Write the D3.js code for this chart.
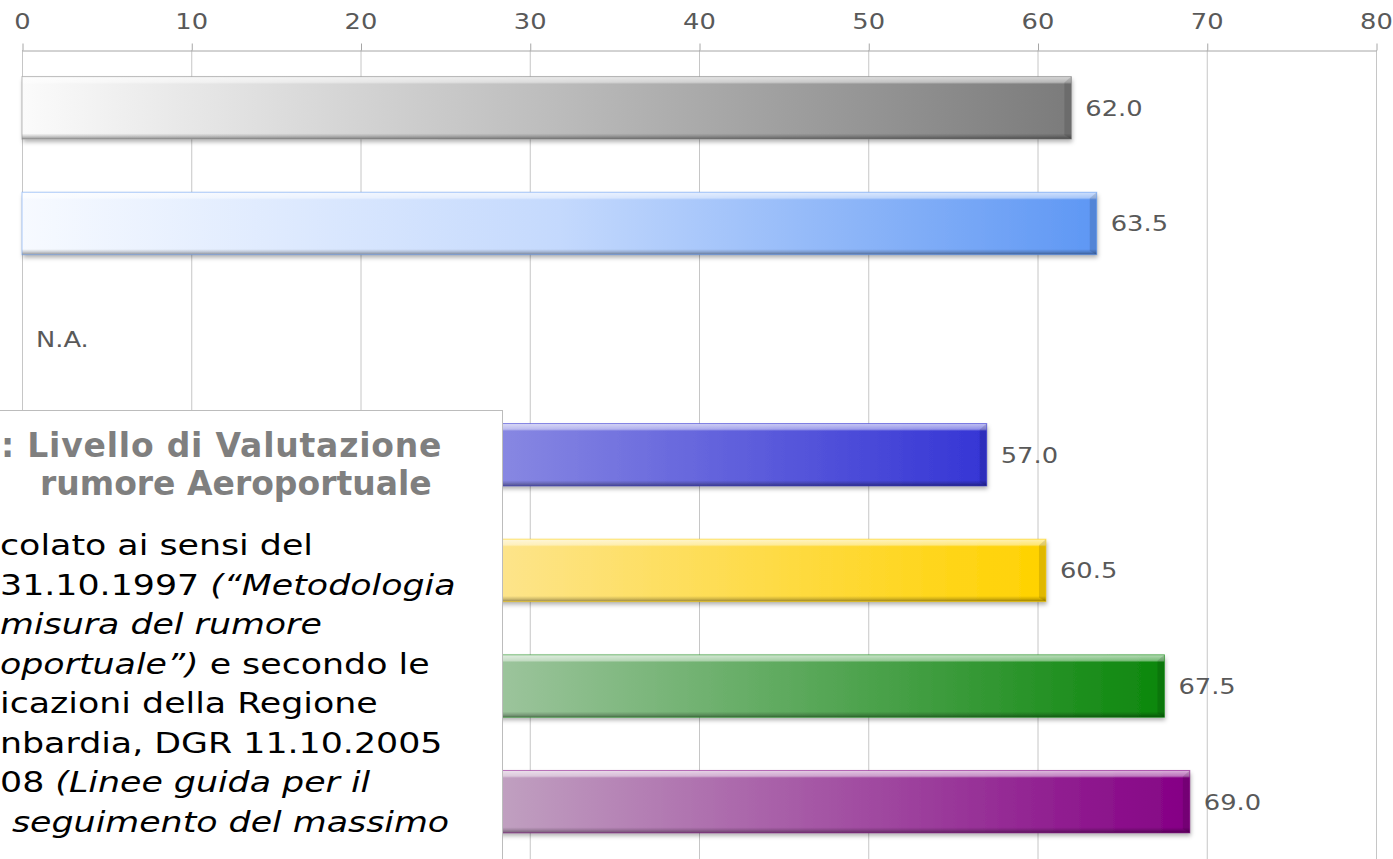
<!DOCTYPE html>
<html>
<head>
<meta charset="utf-8">
<script src="https://cdn.jsdelivr.net/npm/d3@7"></script>
<style>
  html, body { margin: 0; padding: 0; background: #fff; overflow: hidden; }
  svg { display: block; font-family: "DejaVu Sans", Verdana, sans-serif; }
</style>
</head>
<body>
<div id="chart"></div>
<script>
// Bar values (null = not available)
const categories = ["s1", "s2", "s3", "s4", "s5", "s6", "s7"];
const values = [62.0, 63.5, null, 57.0, 60.5, 67.5, 69.0];
const tickValues = [0, 10, 20, 30, 40, 50, 60, 70, 80];
// gradient stops per bar: [offset, colour]
const barStops = [
    [[0, "#fbfbfb"], [0.5, "#bdbdbd"], [1, "#7b7b7b"]],
    [[0, "#f7faff"], [0.5, "#c4d9fd"], [1, "#5e97f4"]],
    [[0, "#ffffff"], [1, "#ffffff"]],
    [[0, "#d2d2f3"], [0.5, "#8787e2"], [1, "#3535d5"]],
    [[0, "#fdf3d2"], [0.47, "#fde48a"], [1, "#ffd200"]],
    [[0, "#e0ece0"], [0.42, "#9cc49c"], [1, "#0c870c"]],
    [[0, "#e6dae6"], [0.41, "#c0a0c0"], [1, "#850085"]]
];

// Overlay note text (left part is cut by the page edge)
const titleLines = [": Livello di Valutazione", "rumore Aeroportuale"];
const noteLines = [
    [{ t: "colato ai sensi del", i: false }],
    [{ t: "31.10.1997 ", i: false }, { t: "(\u201cMetodologia", i: true }],
    [{ t: "misura del rumore", i: true }],
    [{ t: "oportuale\u201d)", i: true }, { t: " e secondo le", i: false }],
    [{ t: "icazioni della Regione", i: false }],
    [{ t: "nbardia, DGR 11.10.2005", i: false }],
    [{ t: "08 ", i: false }, { t: "(Linee guida per il", i: true }],
    [{ t: "seguimento del massimo", i: true }]
];

const width = 1393, height = 859;
const margin = { top: 50, left: 22, right: 17 };
const stretch = 1.17; // text in the picture is a little wider than tall

const svg = d3.select("#chart").append("svg")
    .attr("width", width)
    .attr("height", height);

const x = d3.scaleLinear().domain([0, 80]).range([margin.left, width - margin.right]);
const y = d3.scaleBand().domain(categories).range([margin.top, 859.5])
    .paddingInner(0.46).paddingOuter(0.23);

const defs = svg.append("defs");
barStops.forEach((stops, i) => {
    const g = defs.append("linearGradient").attr("id", "grad" + i)
        .attr("x1", "0%").attr("x2", "100%").attr("y1", "0%").attr("y2", "0%");
    stops.forEach(s => g.append("stop").attr("offset", s[0]).attr("stop-color", s[1]));
});
// vertical bevel overlay: light top strip, dark bottom rim
const bevel = defs.append("linearGradient").attr("id", "bevel")
    .attr("x1", "0%").attr("x2", "0%").attr("y1", "0%").attr("y2", "100%");
[["0%", "#fff", 0.7], ["9%", "#fff", 0.45], ["12%", "#fff", 0], ["91%", "#000", 0],
 ["95%", "#000", 0.15], ["100%", "#000", 0.4]].forEach(s => {
    bevel.append("stop").attr("offset", s[0]).attr("stop-color", s[1]).attr("stop-opacity", s[2]);
});
const shadow = defs.append("filter").attr("id", "shadow")
    .attr("x", "-5%").attr("y", "-20%").attr("width", "110%").attr("height", "150%");
shadow.append("feDropShadow").attr("dx", 1).attr("dy", 3).attr("stdDeviation", 2)
    .attr("flood-color", "#000").attr("flood-opacity", 0.3);

// gridlines
svg.append("g").attr("class", "grid")
    .selectAll("line").data(tickValues).join("line")
    .attr("x1", d => x(d) + 0.5).attr("x2", d => x(d) + 0.5)
    .attr("y1", margin.top).attr("y2", height)
    .attr("stroke", "#c6c6c6").attr("stroke-width", 1);

// top axis
const axis = svg.append("g").attr("transform", `translate(0,${margin.top + 0.5})`)
    .call(d3.axisTop(x).tickValues(tickValues).tickSize(7).tickSizeOuter(0).tickPadding(14));
axis.select(".domain").attr("stroke", "#a6a6a6");
axis.selectAll(".tick line").attr("stroke", "#a6a6a6").attr("transform", "translate(0.5,0)");
axis.selectAll(".tick text").attr("fill", "#595959").style("font-size", "22px")
    .style("font-family", "'DejaVu Sans', Verdana, sans-serif")
    .attr("y", null).attr("dy", null)
    .attr("transform", `translate(0,-22) scale(${stretch},1)`);

// bars
values.forEach((d, idx) => {
    if (d === null) return;
    const g = svg.append("g").attr("class", "bar");
    const bx = x(0), bw = x(d) - x(0), by = y(categories[idx]), bh = y.bandwidth();
    const dark = barStops[idx][barStops[idx].length - 1][1];
    g.append("rect").attr("x", bx).attr("y", by).attr("width", bw).attr("height", bh)
        .attr("fill", `url(#grad${idx})`).attr("filter", "url(#shadow)");
    g.append("rect").attr("x", bx).attr("y", by).attr("width", bw).attr("height", bh)
        .attr("fill", "url(#bevel)");
    // darker bevel at the bar end
    g.append("path")
        .attr("d", `M${bx + bw - 7},${by + 6} L${bx + bw},${by} L${bx + bw},${by + bh} L${bx + bw - 7},${by + bh - 4} Z`)
        .attr("fill", "#000").attr("opacity", 0.12);
    g.append("rect").attr("x", bx).attr("y", by).attr("width", bw).attr("height", bh)
        .attr("fill", "none").attr("stroke", dark).attr("stroke-opacity", 0.5)
        .attr("stroke-width", 1);
});

// value labels
svg.append("g").selectAll("text").data(values).join("text")
    .attr("transform", (d, i) =>
        `translate(${x(d === null ? 0 : d) + 14},${y(categories[i]) + y.bandwidth() / 2 + 8}) scale(${stretch},1)`)
    .attr("fill", "#595959")
    .style("font-size", "22px")
    .text(d => d === null ? "N.A." : d3.format(".1f")(d));

// overlay note box
const note = svg.append("g");
note.append("rect").attr("x", -10).attr("y", 410.5).attr("width", 512.5).attr("height", 500)
    .attr("fill", "#fff").attr("stroke", "#bcbcbc").attr("stroke-width", 1);
note.selectAll(".title").data(titleLines).join("text")
    .attr("class", "title")
    .attr("x", (d, i) => i === 0 ? 1 : 40)
    .attr("y", (d, i) => 457 + i * 38)
    .attr("fill", "#7f7f7f")
    .style("font-size", "33px").style("font-weight", "bold")
    .style("letter-spacing", (d, i) => i === 0 ? "0.8px" : "0px")
    .text(d => d);
note.selectAll(".line").data(noteLines).join("text")
    .attr("class", "line")
    .attr("transform", (d, i) => `translate(${i === 7 ? 12 : 0},${555 + i * 39.5}) scale(1.2,1)`)
    .attr("fill", "#000")
    .style("font-size", "29px")
    .selectAll("tspan").data(d => d).join("tspan")
    .style("font-style", d => d.i ? "italic" : "normal")
    .text(d => d.t);
</script>
</body>
</html>
